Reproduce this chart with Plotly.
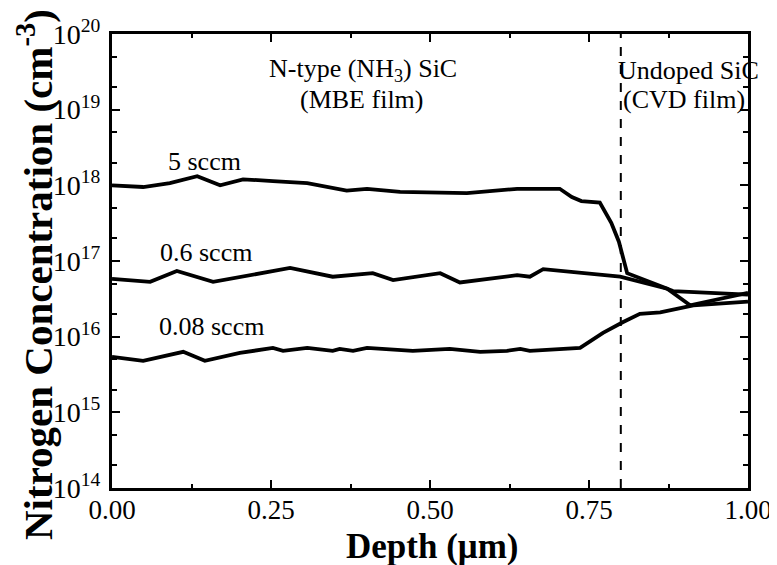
import plotly.graph_objects as go

# Data (depth in µm, concentration in cm^-3)
depth_5 = [0.0, 0.049, 0.091, 0.134, 0.17, 0.206, 0.253, 0.307, 0.369, 0.401, 0.453,
           0.52, 0.558, 0.637, 0.704, 0.723, 0.738, 0.767, 0.785, 0.797, 0.81, 0.873, 0.909, 1.0]
conc_5 = [1.0e18, 9.5e17, 1.07e18, 1.32e18, 1.0e18, 1.2e18, 1.14e18, 1.07e18, 8.5e17, 9.0e17, 8.2e17,
          7.9e17, 7.9e17, 9.0e17, 9.0e17, 7.0e17, 6.2e17, 5.9e17, 3.2e17, 1.8e17, 6.9e16, 4.3e16, 2.6e16, 3.8e16]

depth_06 = [0.0, 0.06, 0.102, 0.159, 0.28, 0.347, 0.41, 0.442, 0.516, 0.547, 0.637, 0.657,
            0.678, 0.799, 0.873, 0.882, 1.0]
conc_06 = [5.8e16, 5.3e16, 7.4e16, 5.3e16, 8.1e16, 6.2e16, 6.9e16, 5.6e16, 6.9e16, 5.2e16, 6.5e16, 6.2e16,
           7.8e16, 6.2e16, 4.3e16, 4.0e16, 3.6e16]

depth_008 = [0.0, 0.049, 0.112, 0.146, 0.201, 0.253, 0.269, 0.307, 0.347, 0.358, 0.379, 0.401,
             0.473, 0.531, 0.579, 0.621, 0.642, 0.657, 0.736, 0.772, 0.803, 0.83, 0.862, 0.914, 1.0]
conc_008 = [5.4e15, 4.8e15, 6.3e15, 4.8e15, 6.1e15, 7.1e15, 6.5e15, 7.1e15, 6.5e15, 6.9e15, 6.5e15, 7.1e15,
            6.5e15, 6.9e15, 6.3e15, 6.5e15, 6.9e15, 6.5e15, 7.1e15, 1.12e16, 1.55e16, 2.0e16, 2.1e16, 2.6e16, 2.9e16]

interface_depth = 0.8

x_ticks = [0.0, 0.25, 0.5, 0.75, 1.0]
x_ticklabels = ["0.00", "0.25", "0.50", "0.75", "1.00"]
y_ticks = [1e14, 1e15, 1e16, 1e17, 1e18, 1e19, 1e20]
y_ticklabels = ["10<sup>%d</sup>" % e for e in range(14, 21)]

FONT = "Times New Roman, Liberation Serif, serif"

fig = go.Figure()
for xs, ys in [(depth_5, conc_5), (depth_06, conc_06), (depth_008, conc_008)]:
    fig.add_trace(go.Scatter(x=xs, y=ys, mode="lines",
                             line=dict(color="black", width=3.8), showlegend=False))

fig.add_shape(type="line", x0=interface_depth, x1=interface_depth, y0=0, y1=1,
              xref="x", yref="paper", line=dict(color="black", width=2, dash="dash"))

annots = [
    ("5 sccm", 0.146, 18.31),
    ("0.6 sccm", 0.148, 17.11),
    ("0.08 sccm", 0.156, 16.13),
    ("N-type (NH<sub>3</sub>) SiC", 0.395, 19.52),
    ("(MBE film)", 0.393, 19.13),
    ("Undoped SiC", 0.906, 19.52),
    ("(CVD film)", 0.9, 19.13),
]
for t, x, y in annots:
    fig.add_annotation(text=t, x=x, y=y, xref="x", yref="y", showarrow=False,
                       xanchor="center", yanchor="middle",
                       font=dict(family=FONT, size=26, color="black"))

# axis titles
fig.add_annotation(text="<b>Depth (\u03bcm)</b>", x=0.503, y=-0.128, xref="paper", yref="paper",
                   xanchor="center", yanchor="middle",
                   showarrow=False, font=dict(family=FONT, size=35, color="black"))
fig.add_annotation(text="<b>Nitrogen Concentration (cm<sup>-3</sup>)</b>", x=-0.122, y=0.47,
                   xref="paper", yref="paper", textangle=-90, showarrow=False,
                   xanchor="center", yanchor="middle",
                   font=dict(family=FONT, size=41, color="black"))

fig.update_xaxes(range=[0, 1], tickvals=x_ticks, ticktext=x_ticklabels,
                 ticks="inside", ticklen=8, tickwidth=2, tickcolor="black",
                 minor=dict(ticks="inside", ticklen=4, tickwidth=2, dtick=0.125, tickcolor="black"),
                 showline=True, linecolor="black", linewidth=3, mirror="ticks",
                 showgrid=False, zeroline=False, ticklabelstandoff=-4, automargin=False,
                 tickfont=dict(family=FONT, size=27, color="black"))
fig.update_yaxes(type="log", range=[14, 20], tickvals=y_ticks, ticktext=y_ticklabels,
                 ticks="inside", ticklen=8, tickwidth=2, tickcolor="black",
                 minor=dict(ticks="inside", ticklen=5, tickwidth=2, tickcolor="black"),
                 showline=True, linecolor="black", linewidth=3, mirror="ticks",
                 showgrid=False, zeroline=False, ticklabelstandoff=3,
                 automargin=False,
                 tickfont=dict(family=FONT, size=28, color="black"))

# the page adds an 8 px body margin, so the figure is sized to fit the 777x565 window
fig.update_layout(width=769, height=557, paper_bgcolor="white", plot_bgcolor="white",
                  margin=dict(l=104, r=29, t=26, b=77, autoexpand=False))

fig.write_html("out.html")
